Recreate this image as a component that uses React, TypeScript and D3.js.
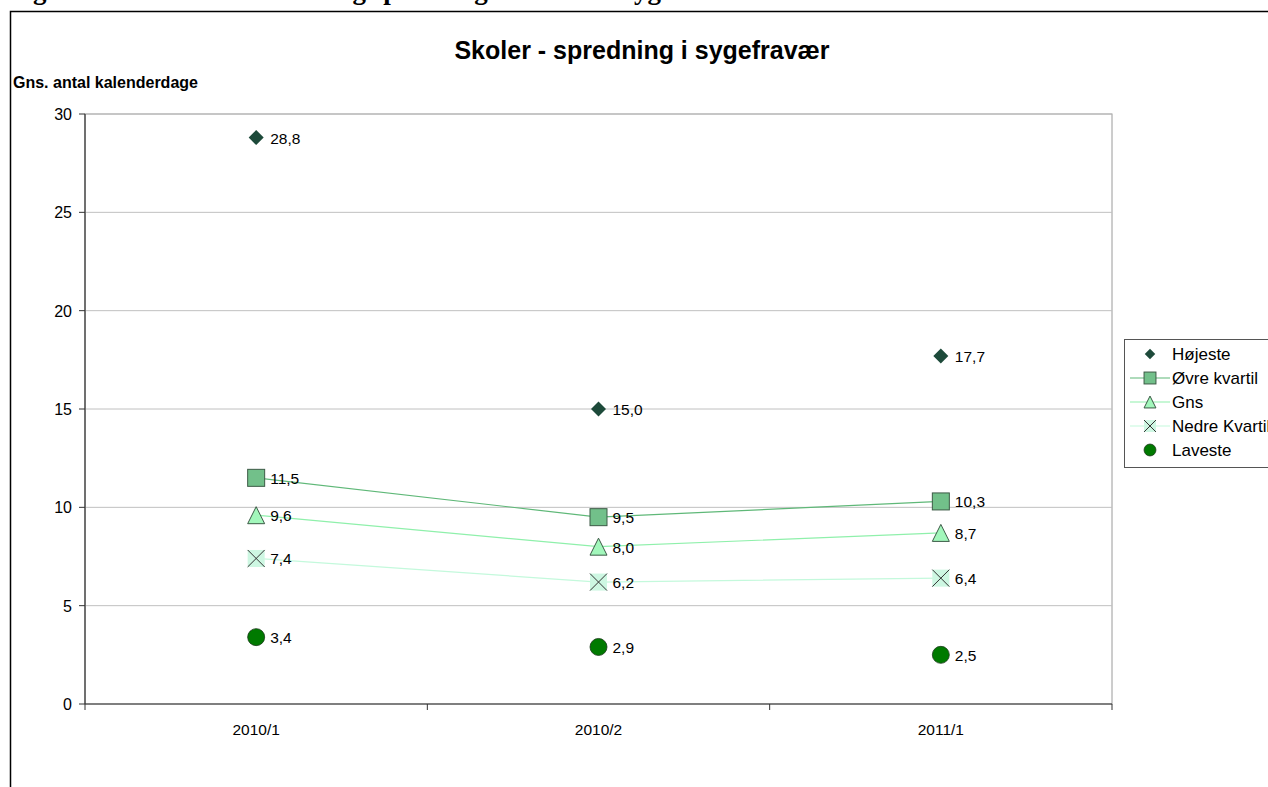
import React from "react";
import * as d3 from "d3";

const categories = ["2010/1", "2010/2", "2011/1"];
const hoejeste = [28.8, 15.0, 17.7];
const oevreKvartil = [11.5, 9.5, 10.3];
const gns = [9.6, 8.0, 8.7];
const nedreKvartil = [7.4, 6.2, 6.4];
const laveste = [3.4, 2.9, 2.5];
const yTicks = [0, 5, 10, 15, 20, 25, 30];
const seriesNames = ["Højeste", "Øvre kvartil", "Gns", "Nedre Kvartil", "Laveste"];

type Series = { name: string; values: number[]; marker: string; fill: string; stroke: string; line: string | null };

const series: Series[] = [
  { name: seriesNames[0], values: hoejeste, marker: "diamond", fill: "#1d4a3a", stroke: "#1d4a3a", line: null },
  { name: seriesNames[1], values: oevreKvartil, marker: "square", fill: "#72c08a", stroke: "#3c5a46", line: "#5fb878" },
  { name: seriesNames[2], values: gns, marker: "triangle", fill: "#a2f7bb", stroke: "#3c5a46", line: "#8ff0ab" },
  { name: seriesNames[3], values: nedreKvartil, marker: "x", fill: "#cdf7e2", stroke: "#333", line: "#c4f9dc" },
  { name: seriesNames[4], values: laveste, marker: "circle", fill: "#007a00", stroke: "#1a3a1a", line: null },
];

const SANS = "Liberation Sans, Arial, sans-serif";

function Marker({ type, x, y, fill, stroke, s = 1 }: { type: string; x: number; y: number; fill: string; stroke: string; s?: number }) {
  if (type === "diamond") {
    const r = 7.5 * s;
    return <path d={`M${x},${y - r}L${x + r},${y}L${x},${y + r}L${x - r},${y}Z`} fill={fill} />;
  }
  if (type === "square") {
    const r = 8.5 * s;
    return <rect x={x - r} y={y - r} width={2 * r} height={2 * r} fill={fill} stroke={stroke} strokeWidth={1} />;
  }
  if (type === "triangle") {
    const r = 8.5 * s;
    return <path d={`M${x},${y - r}L${x + r},${y + r}L${x - r},${y + r}Z`} fill={fill} stroke={stroke} strokeWidth={1} />;
  }
  if (type === "x") {
    const r = 8.5 * s;
    return (
      <g>
        <rect x={x - r} y={y - r} width={2 * r} height={2 * r} fill={fill} />
        <path d={`M${x - r},${y - r}L${x + r},${y + r}M${x + r},${y - r}L${x - r},${y + r}`} stroke={stroke} strokeWidth={1} />
      </g>
    );
  }
  const r = 8.5 * s;
  return <circle cx={x} cy={y} r={r} fill={fill} stroke={stroke} strokeWidth={0.8} />;
}

export default function App() {
  const W = 1268, H = 787;
  const left = 85, right = 1112, top = 114, bottom = 704;
  const x = d3.scaleBand().domain(categories).range([left, right]);
  const y = d3.scaleLinear().domain([0, 30]).range([bottom, top]);
  const cx = (c: string) => (x(c) as number) + x.bandwidth() / 2;
  const fmt = (v: number) => v.toFixed(1).replace(".", ",");
  const boundaries = [...categories.map((c) => x(c) as number), right];
  const legendY = [354, 378, 402, 426, 450];

  return (
    <svg width={W} height={H} style={{ position: "absolute", left: 0, top: 0, background: "#fff" }}>
      <rect x={0} y={0} width={W} height={H} fill="#fff" />
      {/* clipped heading above chart */}
      <text x={9} y={-1} fontFamily="Liberation Serif, Times New Roman, serif" fontWeight="bold" fontSize={27}>
        Figur 4.3: Skoler – kvartiler og spredning i skolernes sygefravær
      </text>
      {/* chart border */}
      <path d={`M10.5,${H}V11.5H${W}`} fill="none" stroke="#000" strokeWidth={1.5} />
      {/* title */}
      <text x={642} y={59} textAnchor="middle" fontFamily={SANS} fontWeight="bold" fontSize={25}>
        Skoler - spredning i sygefravær
      </text>
      <text x={13} y={88} fontFamily={SANS} fontWeight="bold" fontSize={16}>
        Gns. antal kalenderdage
      </text>
      {/* plot border */}
      <rect x={left} y={top} width={right - left} height={bottom - top} fill="none" stroke="#9a9a9a" strokeWidth={1} />
      {/* gridlines */}
      {yTicks.filter((t) => t > 0).map((t) => (
        <line key={t} x1={left} x2={right} y1={y(t)} y2={y(t)} stroke="#c0c0c0" strokeWidth={1} />
      ))}
      {/* axes */}
      <line x1={left} x2={left} y1={top} y2={bottom} stroke="#333" strokeWidth={1.2} />
      <line x1={left} x2={right} y1={bottom} y2={bottom} stroke="#333" strokeWidth={1.2} />
      {yTicks.map((t) => (
        <g key={t}>
          <line x1={left - 6} x2={left} y1={y(t)} y2={y(t)} stroke="#333" />
          <text x={left - 13} y={y(t) + 6} textAnchor="end" fontFamily={SANS} fontSize={16}>
            {t}
          </text>
        </g>
      ))}
      {boundaries.map((b, i) => (
        <line key={i} x1={b} x2={b} y1={bottom} y2={bottom + 6} stroke="#333" />
      ))}
      {categories.map((c) => (
        <text key={c} x={cx(c)} y={735} textAnchor="middle" fontFamily={SANS} fontSize={15.5}>
          {c}
        </text>
      ))}
      {/* lines */}
      {series.filter((s) => s.line).map((s) => {
        const gen = d3.line<number>().x((_, i) => cx(categories[i])).y((v) => y(v));
        return <path key={s.name} d={gen(s.values) || ""} fill="none" stroke={s.line as string} strokeWidth={1.2} />;
      })}
      {/* markers and labels */}
      {series.map((s) =>
        s.values.map((v, i) => (
          <g key={s.name + i}>
            <Marker type={s.marker} x={cx(categories[i])} y={y(v)} fill={s.fill} stroke={s.stroke} />
            <text x={cx(categories[i]) + 14} y={y(v) + 6} fontFamily={SANS} fontSize={15.5}>
              {fmt(v)}
            </text>
          </g>
        ))
      )}
      {/* legend */}
      <rect x={1124.5} y={339.5} width={160} height={128} fill="#fff" stroke="#555" strokeWidth={1} />
      {series.map((s, i) => (
        <g key={s.name}>
          {s.line && <line x1={1130} x2={1170} y1={legendY[i]} y2={legendY[i]} stroke={s.line} strokeWidth={1.2} />}
          <Marker type={s.marker} x={1150} y={legendY[i]} fill={s.fill} stroke={s.stroke} s={0.7} />
          <text x={1172} y={legendY[i] + 6} fontFamily={SANS} fontSize={17}>
            {s.name}
          </text>
        </g>
      ))}
    </svg>
  );
}
